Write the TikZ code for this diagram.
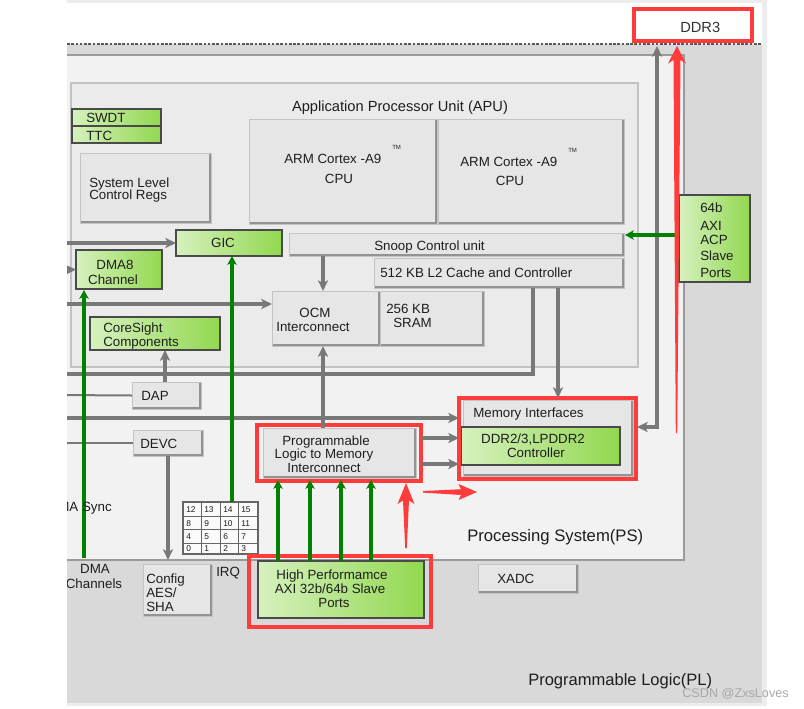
\documentclass[tikz,border=0pt]{standalone}
\usepackage{fontspec}
\setmainfont{Liberation Sans}
\usetikzlibrary{arrows.meta,calc}
\definecolor{plgray}{HTML}{D9D9D9}
\definecolor{framegray}{HTML}{EDEDED}
\definecolor{psfill}{HTML}{F2F2F2}
\definecolor{psedge}{HTML}{9A9A9A}
\definecolor{apufill}{HTML}{EBEBEB}
\definecolor{apuedge}{HTML}{C2C2C2}
\definecolor{boxfill}{HTML}{E6E6E6}
\definecolor{boxedge}{HTML}{C4C4C4}
\definecolor{boxshadow}{HTML}{939393}
\definecolor{conn}{HTML}{787878}
\definecolor{garrow}{HTML}{008200}
\definecolor{redc}{HTML}{FF3B3B}
\definecolor{grL}{HTML}{D6F1BE}
\definecolor{grR}{HTML}{92D850}
\definecolor{gredge}{HTML}{4A4A4A}
\definecolor{txt}{HTML}{1E1E1E}
\definecolor{wm}{HTML}{A8A8A8}
\newcommand\mkbox[6]{\node[#1, anchor=north west, inner sep=0pt, outer sep=0pt, minimum width={(#5-#3)*0.75pt}, minimum height={(#6-#4)*0.75pt}] (#2) at (#3,#4) {};}
\begin{document}
\begin{tikzpicture}[x=0.75pt,y=-0.75pt,
  gbox/.style={fill=boxfill, draw=boxedge, line width=0.75pt,
    path picture={\draw[boxshadow, line width=2.4pt] (path picture bounding box.north east) -- (path picture bounding box.south east) -- (path picture bounding box.south west);}},
  grbox/.style={left color=grL, right color=grR, draw=gredge, line width=1.6pt},
  redbox/.style={draw=redc, line width=2.3pt},
  lbl/.style={text=txt, inner sep=0pt, font=\fontsize{10}{12}\selectfont},
  gc/.style={draw=conn, line width=2.3pt, -{Stealth[length=8pt,width=7.5pt,inset=2pt]}},
  gdbl/.style={draw=conn, line width=2.3pt, {Stealth[length=8pt,width=7.5pt,inset=2pt]}-{Stealth[length=8pt,width=7.5pt,inset=2pt]}},
  gl/.style={draw=conn, line width=2.3pt},
  thinl/.style={draw=conn, line width=1.5pt},
  ga/.style={draw=garrow, line width=2.6pt, -{Stealth[length=6.5pt,width=7pt,inset=1.5pt]}},
  num/.style={text=txt, inner sep=0pt, font=\fontsize{6.3}{7}\selectfont}]
\useasboundingbox (0,0) rectangle (804,708);
\begin{scope}
\clip (67,0) rectangle (804,708);
% background areas
\fill[framegray] (67,0) rectangle (767,706);
\fill[white] (67,3) rectangle (762,44);
\fill[plgray] (67,44) rectangle (762,703);
\draw[dashed, gray!70!black, line width=0.8pt, dash pattern=on 2pt off 1.2pt] (67,44) -- (762,44);
% PS and APU
\mkbox{fill=psfill, draw=psedge, line width=1.4pt}{ps}{40}{55}{684}{560}
\mkbox{fill=apufill, draw=apuedge, line width=1.2pt}{apu}{71}{83}{638}{367}
% boxes
\mkbox{grbox}{swdt}{72}{109}{161}{126}
\mkbox{grbox}{ttc}{72}{126}{161}{143}
\mkbox{gbox}{slcr}{80}{153}{211}{223}
\mkbox{gbox}{cpua}{249}{119}{437}{224}
\mkbox{gbox}{cpub}{438}{119}{624}{224}
\mkbox{grbox}{gic}{176}{230}{282}{256}
\mkbox{grbox}{dma8}{76}{250}{162}{289}
\mkbox{gbox}{snoop}{289}{233}{624}{256}
\mkbox{gbox}{l2}{374}{258}{624}{288}
\mkbox{gbox}{ocm}{272}{291}{380}{346}
\mkbox{gbox}{sram}{380}{291}{484}{346}
\mkbox{grbox}{cs}{90}{317}{220}{350}
\mkbox{gbox}{dap}{132}{382}{201}{409}
\mkbox{gbox}{devc}{133}{430}{203}{456}
\mkbox{gbox}{pl2m}{263}{428}{416}{478}
\mkbox{gbox}{memif}{463}{400}{633}{476}
\mkbox{grbox}{ddrc}{461}{427}{620}{465}
\mkbox{fill=white!60!psfill, draw=gray!80!black, line width=0.9pt}{irq}{183}{502}{258}{554}
\mkbox{gbox}{config}{143}{564}{212}{616}
\mkbox{grbox}{hp}{258}{561}{424}{618}
\mkbox{gbox}{xadc}{478}{564}{578}{593}
\mkbox{grbox}{acp}{679}{195}{750}{282}
% red frames
\mkbox{redbox}{pl2mred}{257}{425}{421}{481}
\mkbox{redbox}{memred}{459}{398}{636}{479}
\mkbox{redbox}{hpred}{249}{556}{431}{627}
\mkbox{redbox, fill=white}{ddr3}{634}{9}{752}{41}
% IRQ grid lines
\draw[gray!80!black, line width=0.7pt] (201,502) -- (201,554) (220,502) -- (220,554) (238,502) -- (238,554)
  (183,516) -- (258,516) (183,529) -- (258,529) (183,543) -- (258,543);
\node[num, anchor=base west] (n12) at (186,512.5) {12};
\node[num, anchor=base west] (n13) at (204,512.5) {13};
\node[num, anchor=base west] (n14) at (223,512.5) {14};
\node[num, anchor=base west] (n15) at (241,512.5) {15};
\node[num, anchor=base west] (n8) at (186,526) {8};
\node[num, anchor=base west] (n9) at (204,526) {9};
\node[num, anchor=base west] (n10) at (223,526) {10};
\node[num, anchor=base west] (n11) at (241,526) {11};
\node[num, anchor=base west] (n4) at (186,539.5) {4};
\node[num, anchor=base west] (n5) at (204,539.5) {5};
\node[num, anchor=base west] (n6) at (223,539.5) {6};
\node[num, anchor=base west] (n7) at (241,539.5) {7};
\node[num, anchor=base west] (n0) at (186,551.5) {0};
\node[num, anchor=base west] (n1) at (204,551.5) {1};
\node[num, anchor=base west] (n2) at (223,551.5) {2};
\node[num, anchor=base west] (n3) at (241,551.5) {3};
% free ends on the left
\coordinate (lgic) at (60,243);
\coordinate (ldma) at (60,270);
\coordinate (locm) at (60,304);
\coordinate (lbus) at (60,374);
\coordinate (ldap) at (60,395);
\coordinate (lmem) at (60,418);
\coordinate (ldevc) at (60,443);
% gray connectors
\draw[gc] (lgic) -- (gic.west);
\draw[gc] (ldma) -- (dma8.west);
\draw[gc] (locm) -- (locm -| ocm.west);
\draw[gc] ($(snoop.south -| ocm.north)+(-3,0)$) -- ($(ocm.north)+(-3,0)$);
\draw[gc] ($(pl2m.north -| ocm.south)+(-3,0)$) -- ($(ocm.south)+(-3,0)$);
\draw[gl] ($(l2.south)+(34,0)$) |- (lbus);
\draw[gc] ($(l2.south)+(59,0)$) -- ++(0,110);
\draw[thinl] (ldap) -- (dap.west);
\draw[gc] ($(dap.north)+(-1.5,0)$) -- ($(dap.north)+(-1.5,-32)$);
\draw[gc] (lmem) -- (lmem -| memred.west);
\draw[thinl] (ldevc) -- (devc.west);
\draw[gc] (devc.south) -- (devc.south |- ps.south);
\draw[gc] ($(pl2mred.east)+(0,-15)$) -- ++(38,0);
\draw[gc] ($(pl2mred.east)+(0,11)$) -- ++(38,0);
\draw[gdbl] ($(memred.east)+(1,-11.5)$) -| ($(ddr3.south west)+(23,5)$);
% green connectors
\draw[ga] ($(dma8.south west)+(8,269)$) -- ($(dma8.south west)+(8,1)$);
\draw[ga] ($(irq.north west)+(49,0)$) -- ($(gic.south west)+(56,0)$);
\draw[ga] ($(snoop.east)+(55,-9.5)$) -- ($(snoop.east)+(1,-9.5)$);
\foreach \dx in {20,52,83,113}{
  \draw[ga] ($(hp.north west)+(\dx,0)$) -- ($(hp.north west)+(\dx,-81)$);
}
% red pointer arrows
\fill[redc] (406,483) -- (414.5,504) -- (409,500.5) -- (406.8,548) -- (405.2,548) -- (403,500.5) -- (397.5,504) -- cycle;
\fill[redc] (477,492) -- (458.5,484) -- (461,489.2) -- (423,491) -- (423,492.6) -- (461,495) -- (458.5,500) -- cycle;
\fill[redc] (677,46) -- (686,63.5) -- (680.5,60) -- (677.2,433) -- (675.8,433) -- (673.5,60) -- (668,63.5) -- cycle;
% texts
\node[lbl, font=\fontsize{11}{13}\selectfont, anchor=base] (tapu) at (400,111.5) {Application Processor Unit (APU)};
\node[lbl, anchor=base west] (tswdt) at (86,122.5) {SWDT};
\node[lbl, anchor=base west] (tttc) at (86,140) {TTC};
\node[lbl, anchor=base west] (tslcr1) at (89,187) {System Level};
\node[lbl, anchor=base west] (tslcr2) at (89,199.5) {Control Regs};
\node[lbl, anchor=base west] (tcpua1) at (284,163) {ARM Cortex -A9};
\node[lbl, font=\fontsize{4.5}{5}\selectfont, anchor=base west] (tma) at (392,149.5) {TM};
\node[lbl, anchor=base] (tcpua2) at (339,183.5) {CPU};
\node[lbl, anchor=base west] (tcpub1) at (460,166) {ARM Cortex -A9};
\node[lbl, font=\fontsize{4.5}{5}\selectfont, anchor=base west] (tmb) at (568,152.5) {TM};
\node[lbl, anchor=base] (tcpub2) at (510,185.5) {CPU};
\node[lbl, anchor=base] (tgic) at (223,247.5) {GIC};
\node[lbl, anchor=base] (tdma1) at (115,269) {DMA8};
\node[lbl, anchor=base] (tdma2) at (113,284) {Channel};
\node[lbl, anchor=base west] (tsnoop) at (374,250) {Snoop Control unit};
\node[lbl, anchor=base west] (tl2) at (380,277.5) {512 KB L2 Cache and Controller};
\node[lbl, anchor=base] (tocm1) at (315,317) {OCM};
\node[lbl, anchor=base] (tocm2) at (313,331.5) {Interconnect};
\node[lbl, anchor=base west] (tsram1) at (386,313.5) {256 KB};
\node[lbl, anchor=base west] (tsram2) at (393,327.5) {SRAM};
\node[lbl, anchor=base west] (tcs1) at (103,332.5) {CoreSight};
\node[lbl, anchor=base west] (tcs2) at (103,346.5) {Components};
\node[lbl, anchor=base west] (tdap) at (141,400) {DAP};
\node[lbl, anchor=base west] (tdevc) at (140,448) {DEVC};
\node[lbl, anchor=base] (tpl1) at (326,445) {Programmable};
\node[lbl, anchor=base] (tpl2) at (324,458.5) {Logic to Memory};
\node[lbl, anchor=base] (tpl3) at (324,472) {Interconnect};
\node[lbl, anchor=base west] (tmem) at (473,417.5) {Memory Interfaces};
\node[lbl, anchor=base] (tddr1) at (533,443.5) {DDR2/3,LPDDR2};
\node[lbl, anchor=base] (tddr2) at (536,457) {Controller};
\node[lbl, anchor=base west] (tacp1) at (700,212) {64b};
\node[lbl, anchor=base west] (tacp2) at (700,230) {AXI};
\node[lbl, anchor=base west] (tacp3) at (700,244.5) {ACP};
\node[lbl, anchor=base west] (tacp4) at (700,260.5) {Slave};
\node[lbl, anchor=base west] (tacp5) at (700,277) {Ports};
\node[lbl, anchor=base east] (tsync) at (112,511.5) {DMA Sync};
\node[lbl, anchor=base] (tdmac1) at (95,573.5) {DMA};
\node[lbl, anchor=base] (tdmac2) at (94,588) {Channels};
\node[lbl, anchor=base west] (tcfg1) at (146,583.5) {Config};
\node[lbl, anchor=base west] (tcfg2) at (146,597.5) {AES/};
\node[lbl, anchor=base west] (tcfg3) at (146,611.5) {SHA};
\node[lbl, anchor=base west] (tirq) at (216,576.5) {IRQ};
\node[lbl, anchor=base] (thp1) at (332,579.5) {High Performamce};
\node[lbl, anchor=base] (thp2) at (330,593.5) {AXI 32b/64b Slave};
\node[lbl, anchor=base] (thp3) at (334,607.5) {Ports};
\node[lbl, anchor=base west] (txadc) at (497,583.5) {XADC};
\node[lbl, font=\fontsize{12.5}{15}\selectfont, anchor=base west] (tps) at (467,541) {Processing System(PS)};
\node[lbl, font=\fontsize{12.4}{15}\selectfont, anchor=base west] (tpl) at (528,685.5) {Programmable Logic(PL)};
\node[inner sep=0pt, text=wm, font=\fontsize{9.5}{11}\selectfont, anchor=base west] (twm) at (682,697.5) {CSDN @ZxsLoves};
\node[inner sep=0pt, text=black!80, font=\fontsize{11}{13}\selectfont, anchor=base west] (tddr3) at (680,32) {DDR3};
\end{scope}
\end{tikzpicture}
\end{document}
